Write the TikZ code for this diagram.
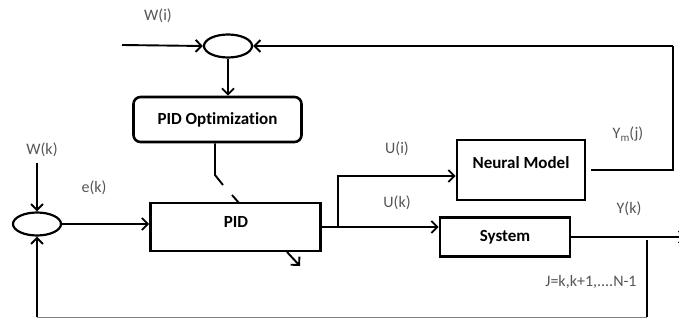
\documentclass[tikz,border=0pt]{standalone}
\usepackage{fontspec}
\setmainfont[Ligatures=NoCommon]{Carlito}
\usetikzlibrary{arrows.meta,shapes.geometric,calc}
\definecolor{lblgray}{RGB}{85,85,85}
\tikzset{
  blk/.style={draw=black,line width=2.6pt,inner sep=0pt,font=\fontsize{17}{20}\selectfont\bfseries},
  sumnode/.style={draw=black,ellipse,line width=2.2pt,minimum width=48pt,minimum height=23pt,inner sep=0pt},
  con/.style={line width=1.9pt,draw=black},
  arr/.style={con,-{Straight Barb[length=6pt,width=12pt,line width=1.9pt]}},
  lbl/.style={text=lblgray,font=\fontsize{16}{19}\selectfont,inner sep=0pt},
}
\begin{document}
\begin{tikzpicture}[x=1pt,y=-1pt]
\useasboundingbox (0,0) rectangle (679,320);
% nodes
\node[sumnode] (s1) at (228,46) {};
\node[blk,rounded corners=7pt,minimum width=168pt,minimum height=45pt] (opt) at (217.5,119.5) {PID Optimization};
\node[sumnode] (s2) at (37,224) {};
\node[blk,minimum width=170pt,minimum height=48pt] (pid) at (235.5,227) {};
\node[font=\fontsize{17}{20}\selectfont\bfseries,inner sep=0pt] (pidt) at (236,222) {PID};
\node[blk,minimum width=128pt,minimum height=60pt] (nm) at (521,170) {};
\node[font=\fontsize{17}{20}\selectfont\bfseries,inner sep=0pt] (nmt) at (521,163) {Neural Model};
\node[blk,minimum width=130pt,minimum height=39pt] (sys) at (505,237) {System};
% labels
\node[lbl] (lwi) at (158,16) {W(i)};
\node[lbl] (lwk) at (42,150) {W(k)};
\node[lbl] (lek) at (94,188) {e(k)};
\node[lbl] (lui) at (397,149) {U(i)};
\node[lbl] (luk) at (397,203) {U(k)};
\node[lbl] (lym) at (628,134) {Y\raisebox{-0.35ex}{\fontsize{11}{12}\selectfont m}(j)};
\node[lbl] (lyk) at (629,209) {Y(k)};
\node[lbl] (lj) at (591,282) {J=k,k+1,....N-1};
% coordinates
\coordinate (wi) at (122,45);
\coordinate (wk) at (37,163);
\coordinate (br) at (338,227);
\coordinate (tr) at (673,46);
\coordinate (out) at (686,237);
\coordinate (fbt) at (647,240);
\coordinate (fbb) at (647,317);
\coordinate (fbl) at (37,317);
\coordinate (d1) at (215,175);
\coordinate (d2) at (223,185);
\coordinate (d3) at (232,195);
\coordinate (d4) at (239,203);
\coordinate (d5) at (287,252);
\coordinate (d6) at (300,266);
% connectors
\draw[arr] (wi) -- (s1.west);
\draw[arr] (s1.south) -- (opt.north -| s1.south);
\draw[arr] (tr) -- (s1.east);
\draw[con] (nm.east) ++(5pt,0) -| (tr);
\draw[con] (opt.south -| d1) -- (d1) -- (d2);
\draw[con] (d3) -- (d4);
\draw[arr] (d5) -- (d6);
\draw[arr] (wk) -- (s2.north);
\draw[arr] (s2.east) -- (s2.east -| pid.west);
\draw[con] (pid.east) -- (br);
\draw[arr] (br) -- (br -| sys.west);
\draw[arr] (br) |- ([yshift=-6pt]nm.west);
\draw[arr] (sys.east) -- (out);
\draw[con] (fbt) -- (fbb);
\draw[line width=1pt,draw=gray] (fbb) -- (fbl);
\draw[arr] (fbl) -- (s2.south);
\end{tikzpicture}
\end{document}
